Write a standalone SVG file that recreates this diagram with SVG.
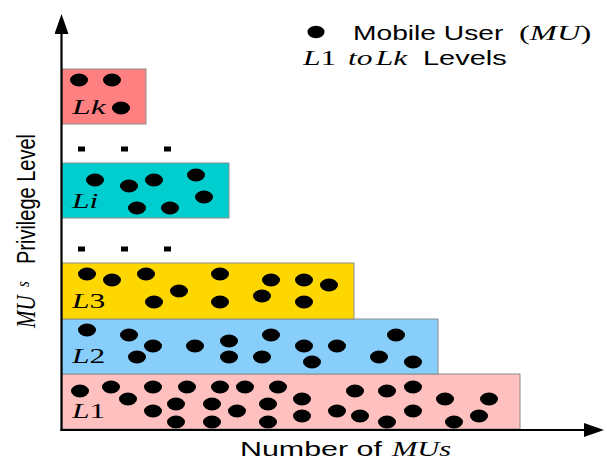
<svg xmlns="http://www.w3.org/2000/svg" width="607" height="460" viewBox="0 0 607 460">
<style>
.sans{font-family:"Liberation Sans",Arial,sans-serif;font-size:20px;fill:#000}
.math{font-family:"Liberation Serif","Times New Roman",serif;font-style:italic;font-size:21px;fill:#000}
.up{font-style:normal}
.box{stroke:#8c8c8c;stroke-width:1}
.axis{stroke:#000;stroke-width:2.2;fill:none}
.dash{fill:#000}
</style>
<defs>
<ellipse id="mu" cx="0" cy="0" rx="9" ry="6.5" fill="#000"/>
<marker id="arr" viewBox="0 0 20 14" markerWidth="20" markerHeight="14" refX="1" refY="7" orient="auto" markerUnits="userSpaceOnUse"><path d="M0,0 L20,7 L0,14 z" fill="#000"/></marker>
</defs>
<rect width="607" height="460" fill="#fff"/>

<g id="level-L1">
<rect class="box" x="62" y="374" width="458" height="55" fill="#ffc0c0"/>
<text class="math" transform="translate(72,418) scale(1.5,1)">L<tspan class="up">1</tspan></text>
<use href="#mu" x="80" y="391"/><use href="#mu" x="111" y="387"/><use href="#mu" x="128" y="399"/>
<use href="#mu" x="153" y="387"/><use href="#mu" x="153" y="411"/><use href="#mu" x="176" y="404"/>
<use href="#mu" x="176" y="422"/><use href="#mu" x="187" y="387"/><use href="#mu" x="220" y="387"/>
<use href="#mu" x="245" y="387"/><use href="#mu" x="212" y="404"/><use href="#mu" x="212" y="422"/>
<use href="#mu" x="237" y="411"/><use href="#mu" x="278" y="387"/><use href="#mu" x="268" y="404"/>
<use href="#mu" x="268" y="422"/><use href="#mu" x="302" y="399"/><use href="#mu" x="302" y="416"/>
<use href="#mu" x="337" y="411"/><use href="#mu" x="355" y="391"/><use href="#mu" x="360" y="416"/>
<use href="#mu" x="387" y="391"/><use href="#mu" x="387" y="422"/><use href="#mu" x="413" y="387"/>
<use href="#mu" x="413" y="411"/><use href="#mu" x="445" y="399"/><use href="#mu" x="454" y="422"/>
<use href="#mu" x="479" y="416"/><use href="#mu" x="489" y="399"/>
</g>

<g id="level-L2">
<rect class="box" x="62" y="319" width="376" height="55" fill="#87cefa"/>
<text class="math" transform="translate(72,363) scale(1.5,1)">L<tspan class="up">2</tspan></text>
<use href="#mu" x="87" y="330"/><use href="#mu" x="129" y="335"/><use href="#mu" x="153" y="346"/>
<use href="#mu" x="137" y="357"/><use href="#mu" x="195" y="346"/><use href="#mu" x="229" y="341"/>
<use href="#mu" x="229" y="357"/><use href="#mu" x="271" y="335"/><use href="#mu" x="262" y="357"/>
<use href="#mu" x="304" y="346"/><use href="#mu" x="337" y="346"/><use href="#mu" x="312" y="362"/>
<use href="#mu" x="396" y="335"/><use href="#mu" x="379" y="357"/><use href="#mu" x="413" y="362"/>
</g>

<g id="level-L3">
<rect class="box" x="62" y="263" width="292" height="56" fill="#ffd700"/>
<text class="math" transform="translate(72,308) scale(1.5,1)">L<tspan class="up">3</tspan></text>
<use href="#mu" x="87" y="274"/><use href="#mu" x="112" y="280"/><use href="#mu" x="146" y="274"/>
<use href="#mu" x="179" y="291"/><use href="#mu" x="154" y="302"/><use href="#mu" x="220" y="274"/>
<use href="#mu" x="220" y="302"/><use href="#mu" x="271" y="280"/><use href="#mu" x="304" y="280"/>
<use href="#mu" x="329" y="285"/><use href="#mu" x="262" y="296"/><use href="#mu" x="304" y="302"/>
</g>

<g id="gap-lower">
<rect class="dash" x="78" y="246.5" width="7" height="5"/>
<rect class="dash" x="121" y="246.5" width="7" height="5"/>
<rect class="dash" x="164" y="246.5" width="7" height="5"/>
</g>

<g id="level-Li">
<rect class="box" x="62" y="163" width="167" height="55" fill="#00cdcd"/>
<text class="math" transform="translate(72,208) scale(1.5,1)">Li</text>
<use href="#mu" x="95" y="180"/><use href="#mu" x="129" y="186"/><use href="#mu" x="154" y="180"/>
<use href="#mu" x="196" y="175"/><use href="#mu" x="137" y="208"/><use href="#mu" x="170" y="208"/>
<use href="#mu" x="204" y="197"/>
</g>

<g id="gap-upper">
<rect class="dash" x="78" y="146.5" width="7" height="5"/>
<rect class="dash" x="121" y="146.5" width="7" height="5"/>
<rect class="dash" x="164" y="146.5" width="7" height="5"/>
</g>

<g id="level-Lk">
<rect class="box" x="62" y="69" width="84" height="55" fill="#ff8080"/>
<text class="math" transform="translate(72,114) scale(1.6,1)">Lk</text>
<use href="#mu" x="79" y="80"/><use href="#mu" x="112" y="80"/><use href="#mu" x="121" y="108"/>
</g>

<g id="connectors">
<line class="axis" x1="61.5" y1="431" x2="61.5" y2="33" marker-end="url(#arr)"/>
<line class="axis" x1="60.5" y1="430" x2="585" y2="430" marker-end="url(#arr)"/>
</g>

<g id="legend">
<ellipse cx="316" cy="32" rx="8.5" ry="6.2" fill="#000"/>
<text class="sans" transform="translate(353,40) scale(1.41,1)">Mobile User</text>
<text class="math" transform="translate(519,40) scale(1.55,1)"><tspan class="up">(</tspan>MU<tspan class="up">)</tspan></text>
<text class="math" transform="translate(303,65) scale(1.5,1)">L<tspan class="up">1</tspan><tspan x="30">to</tspan><tspan x="48.5">L</tspan>k</text>
<text class="sans" transform="translate(423,65) scale(1.45,1)">Levels</text>
</g>

<g id="x-axis-label">
<text class="sans" transform="translate(240,456) scale(1.52,1)">Number of</text>
<text class="math" transform="translate(392,456) scale(1.45,1)">MUs</text>
</g>

<g id="y-axis-label">
<text class="math" transform="translate(35,328) rotate(-90) scale(1,1.3)">MU<tspan style="font-size:15px" dy="-5" x="41">s</tspan></text>
<text class="sans" transform="translate(35,328) rotate(-90) scale(1,1.3)" x="64">Privilege Level</text>
</g>
</svg>
